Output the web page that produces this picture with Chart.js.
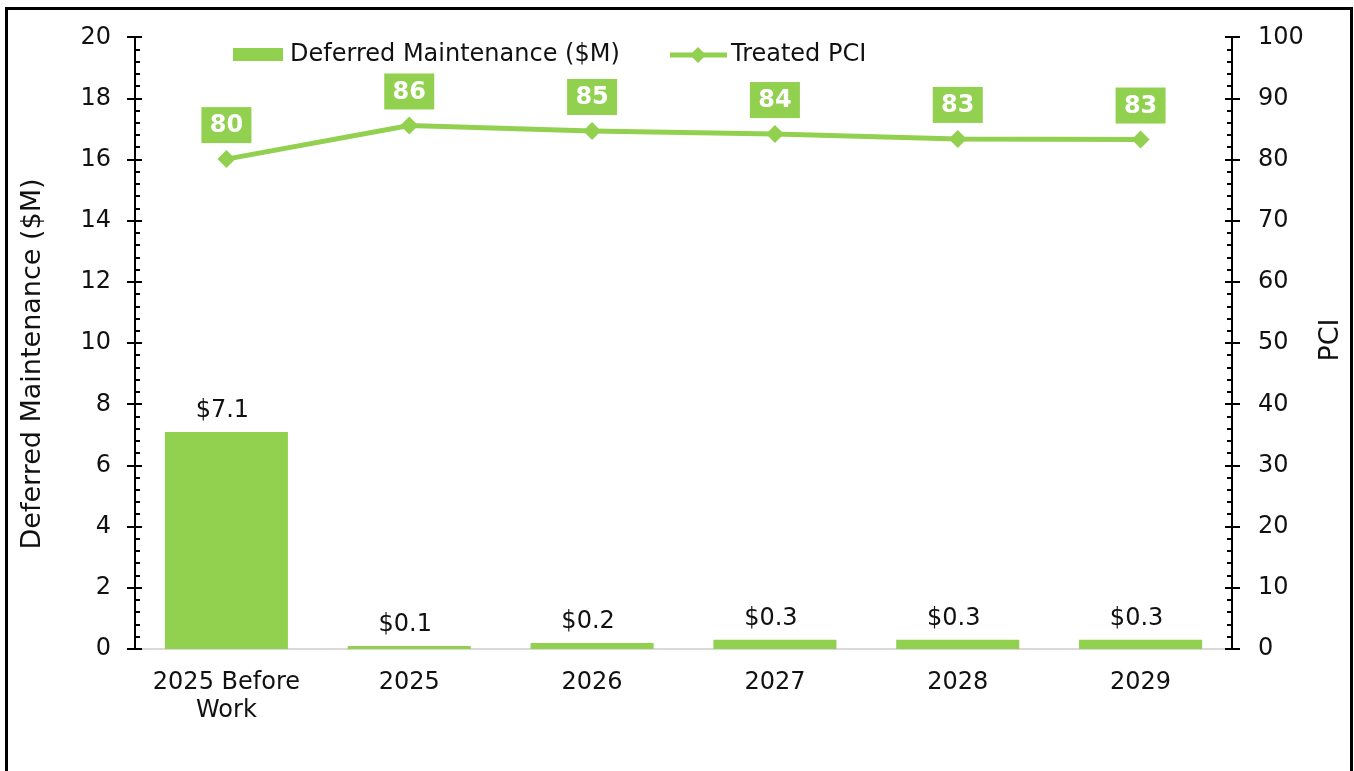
<!DOCTYPE html>
<html>
<head>
<meta charset="utf-8">
<script src="https://cdn.jsdelivr.net/npm/chart.js@4.4.1/dist/chart.umd.min.js"></script>
<style>
  html, body { margin: 0; padding: 0; background: #fff; overflow: hidden; }
  #wrap { position: relative; width: 1354px; height: 771px; overflow: hidden; }
  #frame { position: absolute; left: 5px; top: 7px; width: 1348px; height: 820px; border: 3px solid #000; box-sizing: border-box; pointer-events: none; }
  canvas { position: absolute; left: 0; top: -3px; }
</style>
</head>
<body>
<div id="wrap">
  <canvas id="c" width="1354" height="774"></canvas>
  <div id="frame"></div>
</div>
<script>
const categories = [['2025 Before', 'Work'], '2025', '2026', '2027', '2028', '2029'];
const deferredMaintenance = [7.1, 0.1, 0.2, 0.3, 0.3, 0.3];
const treatedPCI = [80.1, 85.6, 84.7, 84.2, 83.4, 83.3];
const leftTicks = [0, 2, 4, 6, 8, 10, 12, 14, 16, 18, 20];
const rightTicks = [0, 10, 20, 30, 40, 50, 60, 70, 80, 90, 100];
const seriesNames = ['Deferred Maintenance ($M)', 'Treated PCI'];
const axisTitles = ['Deferred Maintenance ($M)', 'PCI'];

const GREEN = '#92d050';
const TEXT = '#111111';
const FONT = 'DejaVu Sans';
const OFF = 3; // canvas is shifted up by this many pixels on the page

const overlay = {
  id: 'overlay',
  afterDraw(chart) {
    const ctx = chart.ctx;
    const y = chart.scales.y, y2 = chart.scales.y2;
    const area = chart.chartArea;
    ctx.save();
    // axis lines
    ctx.strokeStyle = '#000';
    ctx.lineWidth = 2;
    ctx.beginPath();
    ctx.moveTo(area.left, y.getPixelForValue(20)); ctx.lineTo(area.left, y.getPixelForValue(0));
    ctx.moveTo(area.right, y2.getPixelForValue(100)); ctx.lineTo(area.right, y2.getPixelForValue(0));
    ctx.stroke();
    // major and minor ticks
    ctx.beginPath();
    for (let i = 0; i < leftTicks.length; i++) {
      const p = Math.round(y.getPixelForValue(leftTicks[i]));
      ctx.moveTo(area.left - 8, p); ctx.lineTo(area.left + 7, p);
      if (i < leftTicks.length - 1) {
        const step = (leftTicks[i + 1] - leftTicks[i]) / 5;
        for (let k = 1; k < 5; k++) {
          const q = Math.round(y.getPixelForValue(leftTicks[i] + k * step));
          ctx.moveTo(area.left, q); ctx.lineTo(area.left + 5, q);
        }
      }
    }
    for (let i = 0; i < rightTicks.length; i++) {
      const p = Math.round(y2.getPixelForValue(rightTicks[i]));
      ctx.moveTo(area.right - 7, p); ctx.lineTo(area.right + 8, p);
      if (i < rightTicks.length - 1) {
        const step = (rightTicks[i + 1] - rightTicks[i]) / 5;
        for (let k = 1; k < 5; k++) {
          const q = Math.round(y2.getPixelForValue(rightTicks[i] + k * step));
          ctx.moveTo(area.right - 5, q); ctx.lineTo(area.right, q);
        }
      }
    }
    ctx.stroke();

    // bar value labels
    ctx.fillStyle = TEXT;
    ctx.font = '24px "' + FONT + '"';
    ctx.textAlign = 'center';
    ctx.textBaseline = 'middle';
    const barMeta = chart.getDatasetMeta(0);
    barMeta.data.forEach((bar, i) => {
      ctx.fillText('$' + deferredMaintenance[i].toFixed(1), bar.x - 4, bar.y - 21);
    });

    // line value labels (boxed)
    const lineMeta = chart.getDatasetMeta(1);
    ctx.font = 'bold 24px "' + FONT + '"';
    lineMeta.data.forEach((pt, i) => {
      const cy = pt.y - 34;
      ctx.fillStyle = GREEN;
      ctx.fillRect(pt.x - 25, cy - 18, 50, 36);
      ctx.fillStyle = '#fff';
      ctx.fillText(String(Math.round(treatedPCI[i])), pt.x, cy + 1);
    });

    // legend (page coordinates)
    ctx.translate(0, OFF);
    ctx.fillStyle = GREEN;
    ctx.fillRect(233, 48, 50, 13);
    ctx.font = '24px "' + FONT + '"';
    ctx.fillStyle = TEXT;
    ctx.textAlign = 'left';
    ctx.fillText(seriesNames[0], 290, 55);
    ctx.strokeStyle = GREEN;
    ctx.lineWidth = 5;
    ctx.beginPath(); ctx.moveTo(670, 55); ctx.lineTo(727, 55); ctx.stroke();
    ctx.fillStyle = GREEN;
    ctx.beginPath();
    ctx.moveTo(698, 47); ctx.lineTo(706, 55); ctx.lineTo(698, 63); ctx.lineTo(690, 55); ctx.closePath(); ctx.fill();
    ctx.fillStyle = TEXT;
    ctx.fillText(seriesNames[1], 731, 55);

    // axis titles
    ctx.font = '27px "' + FONT + '"';
    ctx.textAlign = 'center';
    ctx.save();
    ctx.translate(33, 364);
    ctx.rotate(-Math.PI / 2);
    ctx.fillText(axisTitles[0], 0, 0);
    ctx.restore();
    ctx.save();
    ctx.translate(1331, 340);
    ctx.rotate(-Math.PI / 2);
    ctx.fillText(axisTitles[1], 0, 0);
    ctx.restore();
    ctx.restore();
  }
};

new Chart(document.getElementById('c'), {
  data: {
    labels: categories,
    datasets: [
      {
        type: 'bar',
        label: seriesNames[0],
        data: deferredMaintenance,
        backgroundColor: GREEN,
        yAxisID: 'y',
        categoryPercentage: 1,
        barPercentage: 0.673,
        order: 2
      },
      {
        type: 'line',
        label: seriesNames[1],
        data: treatedPCI,
        borderColor: GREEN,
        backgroundColor: GREEN,
        borderWidth: 5,
        pointStyle: 'rectRot',
        pointRadius: 9,
        pointBackgroundColor: GREEN,
        pointBorderWidth: 0,
        yAxisID: 'y2',
        tension: 0,
        order: 1
      }
    ]
  },
  options: {
    responsive: false,
    animation: false,
    devicePixelRatio: 1,
    layout: { padding: { top: 35, left: 0, right: 0, bottom: 0 } },
    plugins: { legend: { display: false }, tooltip: { enabled: false } },
    scales: {
      x: {
        grid: { display: false, drawTicks: false },
        border: { display: true, color: '#d9d9d9', width: 2 },
        ticks: { color: TEXT, font: { family: FONT, size: 24, lineHeight: 1.2 }, padding: 19, maxRotation: 0, autoSkip: false },
        afterFit(s) { s.height = 122; }
      },
      y: {
        position: 'left',
        min: 0, max: 20,
        afterBuildTicks(s) { s.ticks = leftTicks.map(v => ({ value: v })); },
        grid: { display: false, drawTicks: false },
        border: { display: false },
        ticks: { color: TEXT, font: { family: FONT, size: 24 }, padding: 24 },
        afterFit(s) { s.width = 135; }
      },
      y2: {
        position: 'right',
        min: 0, max: 100,
        afterBuildTicks(s) { s.ticks = rightTicks.map(v => ({ value: v })); },
        grid: { display: false, drawTicks: false },
        border: { display: false },
        ticks: { color: TEXT, font: { family: FONT, size: 24 }, padding: 26 },
        afterFit(s) { s.width = 122; }
      }
    }
  },
  plugins: [overlay]
});
</script>
</body>
</html>
